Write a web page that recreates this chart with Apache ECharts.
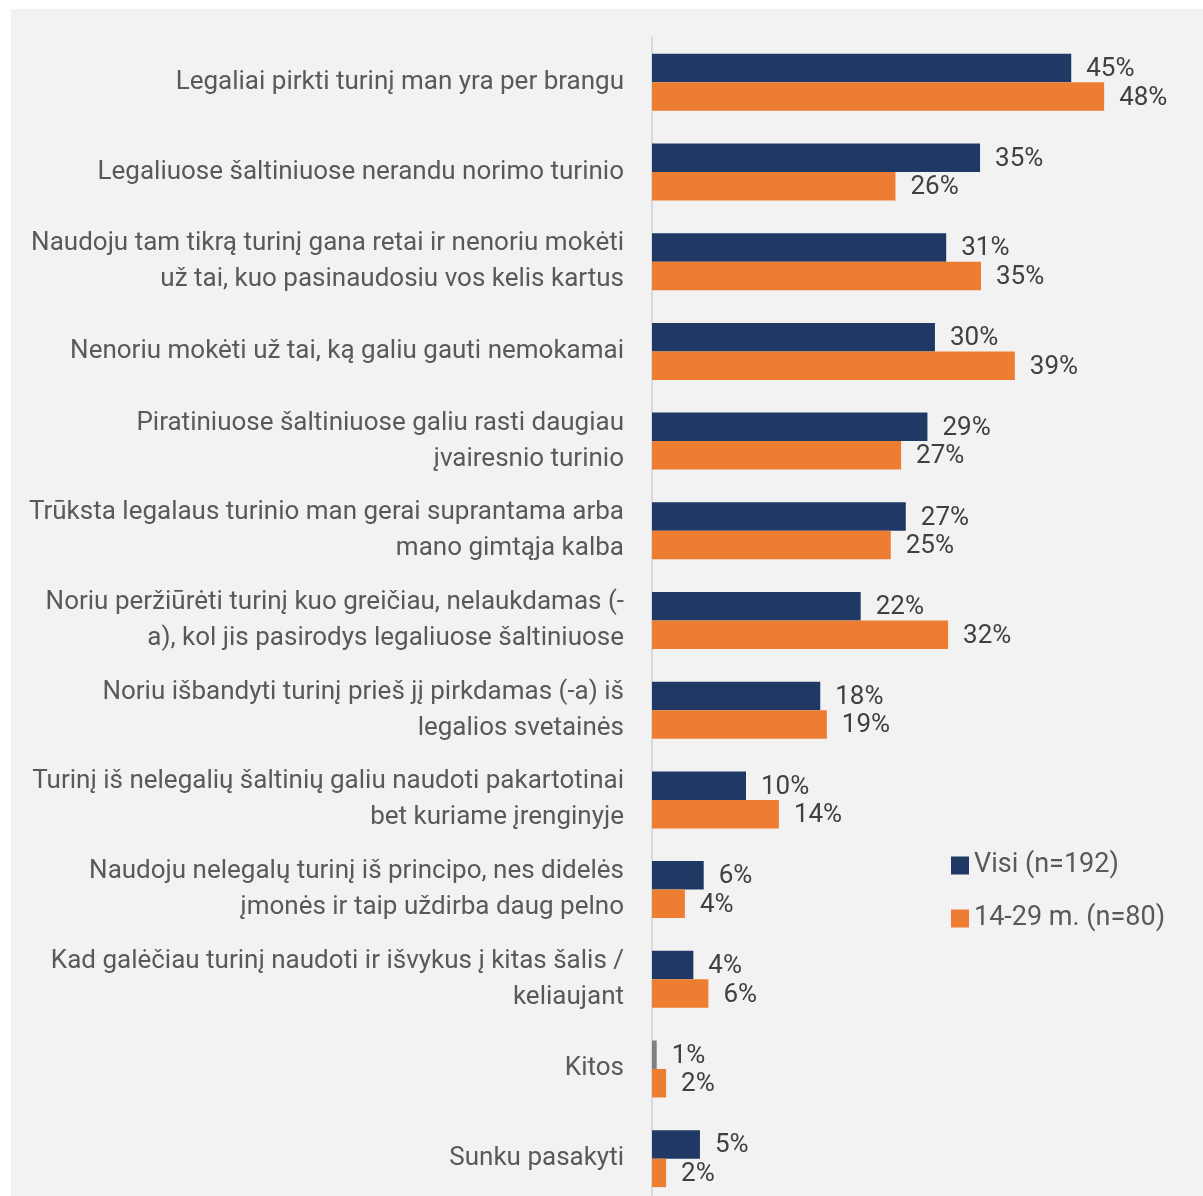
<!DOCTYPE html>
<html>
<head>
<meta charset="utf-8">
<script src="https://cdn.jsdelivr.net/npm/echarts@6/dist/echarts.min.js"></script>
<style>
html,body{margin:0;padding:0;background:#ffffff;overflow:hidden;}
#chart{width:1203px;height:1215px;}
</style>
</head>
<body>
<div id="chart"></div>
<script>
const categories = [
  "Legaliai pirkti turinį man yra per brangu",
  "Legaliuose šaltiniuose nerandu norimo turinio",
  "Naudoju tam tikrą turinį gana retai ir nenoriu mokėti\nuž tai, kuo pasinaudosiu vos kelis kartus",
  "Nenoriu mokėti už tai, ką galiu gauti nemokamai",
  "Piratiniuose šaltiniuose galiu rasti daugiau\nįvairesnio turinio",
  "Trūksta legalaus turinio man gerai suprantama arba\nmano gimtąja kalba",
  "Noriu peržiūrėti turinį kuo greičiau, nelaukdamas (-\na), kol jis pasirodys legaliuose šaltiniuose",
  "Noriu išbandyti turinį prieš jį pirkdamas (-a) iš\nlegalios svetainės",
  "Turinį iš nelegalių šaltinių galiu naudoti pakartotinai\nbet kuriame įrenginyje",
  "Naudoju nelegalų turinį iš principo, nes didelės\nįmonės ir taip uždirba daug pelno",
  "Kad galėčiau turinį naudoti ir išvykus į kitas šalis /\nkeliaujant",
  "Kitos",
  "Sunku pasakyti"
];
const seriesNames = ["Visi (n=192)", "14-29 m. (n=80)"];
const visiValues = [44.6, 34.9, 31.3, 30.1, 29.3, 27.0, 22.2, 17.9, 10.0, 5.5, 4.4, 0.5, 5.1];
const youngValues = [48.1, 25.9, 35.0, 38.6, 26.5, 25.4, 31.5, 18.6, 13.5, 3.5, 6.0, 1.5, 1.5];
const visiLabels = ["45%","35%","31%","30%","29%","27%","22%","18%","10%","6%","4%","1%","5%"];
const youngLabels = ["48%","26%","35%","39%","27%","25%","32%","19%","14%","4%","6%","2%","2%"];

const NAVY = "#203864", ORANGE = "#ED7D31", GRAY = "#7F7F7F";

const chart = echarts.init(document.getElementById('chart'), null, {renderer:'canvas'});
const labelStyle = {show:true, position:'right', distance:15, offset:[0,1.5], color:'#404040', fontSize:26, fontFamily:'Roboto'};

chart.setOption({
  animation:false,
  backgroundColor:'#ffffff',
  graphic:[{type:'rect', z:-100, silent:true, shape:{x:11,y:9,width:1192,height:1206}, style:{fill:'#f2f2f2'}}],
  legend:{
    orient:'vertical', left:946, top:847, itemWidth:18, itemHeight:18, itemGap:26,
    icon:'rect',
    textStyle:{color:'#595959', fontSize:27, fontFamily:'Roboto'},
    data:seriesNames
  },
  grid:{left:652, top:37.5, width:9.4*55, height:1166, containLabel:false},
  xAxis:{type:'value', min:0, max:55, show:false, splitLine:{show:false}},
  yAxis:{
    type:'category', inverse:true, data:categories,
    axisTick:{show:false},
    axisLine:{show:true, lineStyle:{color:'#d9d9d9', width:2}},
    axisLabel:{color:'#595959', fontSize:26, fontFamily:'Roboto', margin:28, lineHeight:36, align:'right'}
  },
  series:[
    {name:seriesNames[0], type:'bar', barWidth:28.5, barGap:'0%',
     itemStyle:{color:NAVY},
     data:visiValues.map((v,i)=> i===11 ? {value:v, itemStyle:{color:GRAY}} : v),
     label:Object.assign({}, labelStyle, {formatter:p=>visiLabels[p.dataIndex]})},
    {name:seriesNames[1], type:'bar', barWidth:28.5, barGap:'0%',
     itemStyle:{color:ORANGE},
     data:youngValues,
     label:Object.assign({}, labelStyle, {formatter:p=>youngLabels[p.dataIndex]})}
  ]
});
</script>
</body>
</html>
